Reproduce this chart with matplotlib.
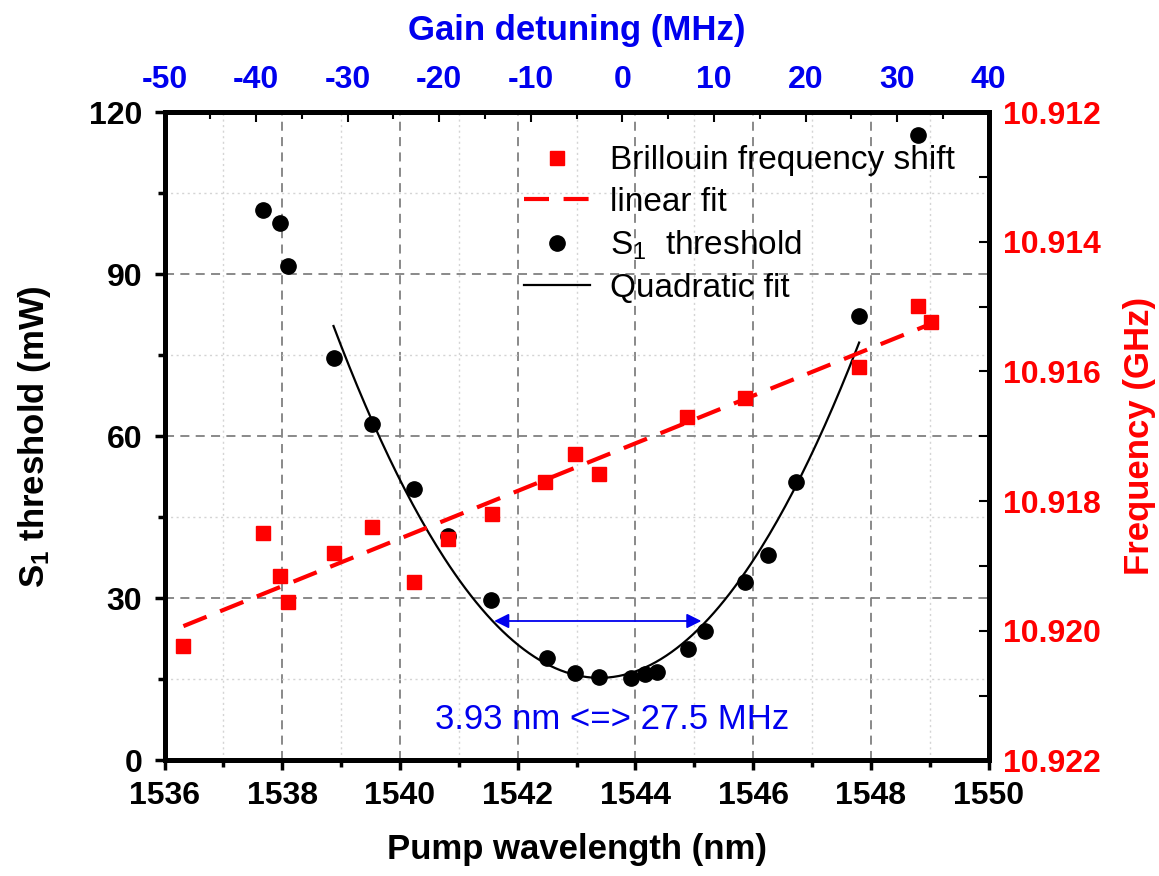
import numpy as np
import matplotlib
matplotlib.use("Agg")
import matplotlib.pyplot as plt
from matplotlib.ticker import MultipleLocator, FormatStrFormatter
from matplotlib.lines import Line2D

plt.rcParams['font.family'] = ['Liberation Sans', 'DejaVu Sans']
plt.rcParams['mathtext.fontset'] = 'custom'
plt.rcParams['mathtext.rm'] = 'Liberation Sans'
plt.rcParams['mathtext.bf'] = 'Liberation Sans:bold'
plt.rcParams['mathtext.it'] = 'Liberation Sans:italic'
plt.rcParams['axes.unicode_minus'] = False

# S1 threshold (mW) vs pump wavelength (nm)
wl_thr = [1537.68, 1537.96, 1538.09, 1538.87, 1539.52, 1540.24, 1540.82, 1541.55,
          1542.49, 1542.97, 1543.38, 1543.93, 1544.16, 1544.37, 1544.89, 1545.18,
          1545.86, 1546.25, 1546.72, 1547.80, 1548.80]
thr = [101.9, 99.5, 91.5, 74.4, 62.2, 50.3, 41.5, 29.6,
       19.0, 16.2, 15.4, 15.3, 15.9, 16.4, 20.6, 23.9,
       33.0, 38.1, 51.5, 82.2, 115.7]

# Brillouin frequency shift (GHz) vs pump wavelength (nm)
wl_bfs = [1536.32, 1537.68, 1537.96, 1538.10, 1538.87, 1539.52, 1540.24, 1540.82,
          1541.56, 1542.47, 1542.98, 1543.38, 1544.88, 1545.86, 1547.80, 1548.80, 1549.02]
bfs = [10.92024, 10.91850, 10.91915, 10.91955, 10.91880, 10.91840, 10.91925, 10.91859,
       10.91820, 10.91771, 10.91728, 10.91758, 10.91670, 10.91641, 10.91593, 10.91499, 10.91523]

wl_thr = np.array(wl_thr)
thr = np.array(thr)
wl_bfs = np.array(wl_bfs)
bfs = np.array(bfs)

RED = '#ff0000'
BLUE = '#0000ee'

fig = plt.figure(figsize=(11.59, 8.76), dpi=100)
ax = fig.add_axes([0.142, 0.132, 0.711, 0.740])
axr = ax.twinx()
axt = ax.twiny()

# grid
ax.set_axisbelow(True)
ax.grid(which='major', color='#808080', linestyle=(0, (5, 3.5)), linewidth=1.3)
ax.grid(which='minor', color='#d4d4d4', linestyle=(0, (1.5, 2.5)), linewidth=1.0)

# S1 threshold + quadratic fit
ax.plot(wl_thr, thr, 'o', color='black', markersize=11, zorder=4)
sel = slice(3, 20)
qc = np.polyfit(wl_thr[sel], thr[sel], 2)
xq = np.linspace(wl_thr[3], wl_thr[19], 200)
ax.plot(xq, np.polyval(qc, xq), color='black', linewidth=1.6, zorder=3)

# Brillouin frequency shift + linear fit
axr.plot(wl_bfs, bfs, 's', color=RED, markersize=10, zorder=4)
lc = np.polyfit(wl_bfs, bfs, 1)
xl = np.array([wl_bfs[0], 1549.1])
axr.plot(xl, np.polyval(lc, xl), color=RED, linewidth=3.0, dashes=(6, 3.5), zorder=3)

# FWHM arrow and label
ax.annotate('', xy=(1545.12, 25.8), xytext=(1541.6, 25.8),
            arrowprops=dict(arrowstyle='<|-|>', color=BLUE, lw=1.3, mutation_scale=22,
                            shrinkA=0, shrinkB=0))
ax.text(1543.6, 7.6, '3.93 nm <=> 27.5 MHz', color=BLUE, fontsize=25,
        ha='center', va='center')

# axes limits
ax.set_xlim(1536, 1550)
ax.set_ylim(0, 120)
axr.set_ylim(10.922, 10.912)
axt.set_xlim(-50, 40)

ax.xaxis.set_major_locator(MultipleLocator(2))
ax.xaxis.set_minor_locator(MultipleLocator(1))
ax.yaxis.set_major_locator(MultipleLocator(30))
ax.yaxis.set_minor_locator(MultipleLocator(15))
axr.yaxis.set_major_locator(MultipleLocator(0.002))
axr.yaxis.set_minor_locator(MultipleLocator(0.001))
axr.yaxis.set_major_formatter(FormatStrFormatter('%.3f'))
axt.xaxis.set_major_locator(MultipleLocator(10))
axt.xaxis.set_minor_locator(MultipleLocator(5))

ax.tick_params(axis='x', which='major', direction='out', length=7, width=2.5,
               labelsize=23, pad=8)
ax.tick_params(axis='y', which='major', direction='out', length=7, width=2.5,
               labelsize=23, pad=9)
ax.tick_params(axis='both', which='minor', direction='out', length=5, width=2.5)
axr.tick_params(axis='y', which='major', direction='in', length=7, width=1.5,
                labelsize=23, labelcolor=RED, pad=10)
axr.tick_params(axis='y', which='minor', direction='in', length=7, width=1.5)
axt.tick_params(axis='x', which='major', direction='in', length=7, width=1.5,
                labelsize=23, labelcolor=BLUE, pad=12)
axt.tick_params(axis='x', which='minor', direction='in', length=5, width=1.5)

for a in (ax, axr, axt):
    for lab in a.get_xticklabels() + a.get_yticklabels():
        lab.set_fontweight('bold')
    for s in a.spines.values():
        s.set_linewidth(3.5)

ax.set_xlabel('Pump wavelength (nm)', fontsize=25, fontweight='bold', labelpad=16)
ax.set_ylabel(r'S$_\mathbf{1}$ threshold (mW)', fontsize=25, fontweight='bold', labelpad=26)
axr.set_ylabel('Frequency (GHz)', fontsize=25, fontweight='bold', color=RED, labelpad=16)
axt.set_xlabel('Gain detuning (MHz)', fontsize=25, fontweight='bold', color=BLUE, labelpad=18)

handles = [
    Line2D([], [], marker='s', linestyle='none', color=RED, markersize=10),
    Line2D([], [], color=RED, linewidth=3.0, dashes=(6, 3.5)),
    Line2D([], [], marker='o', linestyle='none', color='black', markersize=11),
    Line2D([], [], color='black', linewidth=1.6),
]
labels = ['Brillouin frequency shift', 'linear fit', r'S$_1$  threshold', 'Quadratic fit']
axt.legend(handles, labels, loc='upper right', frameon=False, fontsize=24,
           handlelength=2.0, handletextpad=0.6, labelspacing=0.32,
           borderaxespad=0.6)

fig.savefig('out.png', dpi=100)
